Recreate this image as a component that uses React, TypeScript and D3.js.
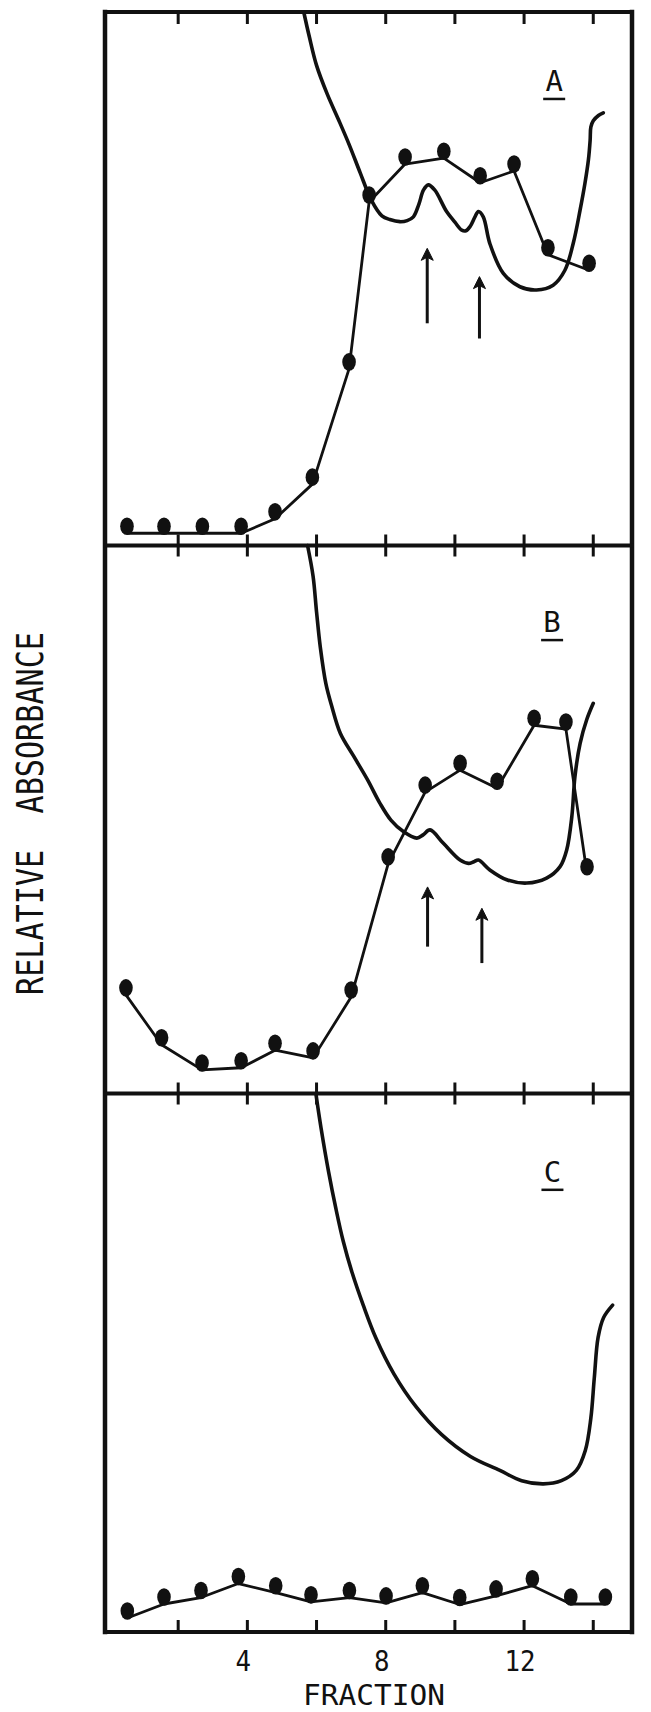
import React from 'react';
import * as d3 from 'd3';

// ---- axis ----
const fractionTicks = [2, 4, 6, 8, 10, 12, 14];
const fractionLabels = [4, 8, 12];

// ---- Panel A ----
const aDotFraction = [0.52, 1.59, 2.70, 3.82, 4.80, 5.88, 6.94, 7.52, 8.56, 9.68, 10.73, 11.71, 12.69, 13.88];
const aDotAbs = [0.023, 0.023, 0.023, 0.023, 0.050, 0.115, 0.331, 0.644, 0.715, 0.726, 0.680, 0.702, 0.545, 0.516];
const aScanFraction = [5.63, 5.79, 6.00, 6.31, 6.63, 6.94, 7.26, 7.58, 7.89, 8.12, 8.41, 8.62, 8.80, 8.96, 9.09, 9.23, 9.42, 9.76, 10.00, 10.20, 10.32, 10.44, 10.58, 10.68, 10.82, 11.01, 11.40, 11.88, 12.36, 12.84, 13.18, 13.42, 13.62, 13.76, 13.86, 13.91, 13.93, 14.00, 14.15, 14.29];
const aScanAbs = [1.000, 0.954, 0.900, 0.846, 0.799, 0.752, 0.699, 0.648, 0.618, 0.611, 0.607, 0.609, 0.616, 0.640, 0.666, 0.676, 0.666, 0.626, 0.606, 0.591, 0.590, 0.598, 0.616, 0.626, 0.616, 0.566, 0.510, 0.485, 0.479, 0.488, 0.516, 0.566, 0.629, 0.679, 0.723, 0.760, 0.784, 0.796, 0.806, 0.811];
const aArrowFraction = [9.20, 10.71];
const aArrowTip = [0.557, 0.504];
const aArrowTail = [0.4165, 0.388];

// ---- Panel B ----
const bDotFraction = [0.49, 1.52, 2.69, 3.82, 4.80, 5.90, 7.00, 8.07, 9.14, 10.15, 11.22, 12.29, 13.21, 13.82];
const bDotAbs = [0.180, 0.089, 0.043, 0.047, 0.079, 0.065, 0.176, 0.419, 0.550, 0.590, 0.557, 0.672, 0.665, 0.401];
const bScanFraction = [5.74, 5.90, 6.00, 6.11, 6.27, 6.43, 6.69, 7.06, 7.48, 7.83, 8.15, 8.51, 8.90, 9.08, 9.28, 9.66, 10.15, 10.39, 10.55, 10.68, 11.01, 11.50, 12.08, 12.65, 13.04, 13.23, 13.38, 13.47, 13.62, 13.81, 14.00];
const bScanAbs = [1.000, 0.944, 0.879, 0.814, 0.748, 0.709, 0.657, 0.617, 0.572, 0.530, 0.499, 0.478, 0.466, 0.472, 0.481, 0.457, 0.426, 0.420, 0.423, 0.426, 0.408, 0.390, 0.384, 0.393, 0.414, 0.444, 0.505, 0.578, 0.639, 0.682, 0.712];
const bArrowFraction = [9.21, 10.78];
const bArrowTip = [0.377, 0.338];
const bArrowTail = [0.268, 0.238];

// ---- Panel C ----
const cDotFraction = [0.53, 1.59, 2.66, 3.74, 4.82, 5.84, 6.95, 8.01, 9.06, 10.14, 11.19, 12.24, 13.35, 14.35];
const cDotAbs = [0.026, 0.052, 0.064, 0.090, 0.073, 0.056, 0.064, 0.054, 0.073, 0.051, 0.067, 0.086, 0.052, 0.052];
const cScanFraction = [5.98, 6.13, 6.35, 6.56, 6.77, 7.03, 7.35, 7.71, 8.24, 8.87, 9.61, 10.45, 11.30, 11.93, 12.56, 13.08, 13.51, 13.77, 13.93, 14.03, 14.14, 14.30, 14.56];
const cScanAbs = [1.000, 0.936, 0.854, 0.786, 0.726, 0.667, 0.607, 0.547, 0.479, 0.419, 0.367, 0.326, 0.300, 0.281, 0.275, 0.281, 0.300, 0.337, 0.397, 0.472, 0.547, 0.584, 0.607];
const cArrowFraction: number[] = [];
const cArrowTip: number[] = [];
const cArrowTail: number[] = [];

// ---- layout ----
const W = 651;
const H = 1712;
const FRAME_LEFT = 105;
const FRAME_RIGHT = 632;
const PANEL_EDGES = [12, 545.5, 1093.5, 1632];

const panels = [
  { name: 'A', dx: aDotFraction, dy: aDotAbs, sx: aScanFraction, sy: aScanAbs, ax: aArrowFraction, at: aArrowTip, al: aArrowTail, top: PANEL_EDGES[0], bottom: PANEL_EDGES[1], labelF: 12.87, labelV: 0.852 },
  { name: 'B', dx: bDotFraction, dy: bDotAbs, sx: bScanFraction, sy: bScanAbs, ax: bArrowFraction, at: bArrowTip, al: bArrowTail, top: PANEL_EDGES[1], bottom: PANEL_EDGES[2], labelF: 12.81, labelV: 0.842 },
  { name: 'C', dx: cDotFraction, dy: cDotAbs, sx: cScanFraction, sy: cScanAbs, ax: cArrowFraction, at: cArrowTip, al: cArrowTail, top: PANEL_EDGES[2], bottom: PANEL_EDGES[3], labelF: 12.82, labelV: 0.836 },
];

const INK = '#111';
const FONT = '"DejaVu Sans Mono", "Liberation Mono", monospace';

export default function App() {
  const x = d3.scaleLinear().domain([0, 15.2]).range([109, 109 + 34.59 * 15.2]);

  return (
    <svg width={W} height={H} style={{ position: 'absolute', left: 0, top: 0, background: '#fff' }}>
      <rect x={0} y={0} width={W} height={H} fill="#fff" />
      {panels.map((p) => {
        const y = d3.scaleLinear().domain([0, 1]).range([p.bottom, p.top]);
        const pts: [number, number][] = p.dx.map((f, i) => [x(f), y(p.dy[i])]);
        const scan: [number, number][] = p.sx.map((f, i) => [x(f), y(p.sy[i])]);
        const lineGen = d3.line();
        const curveGen = d3.line().curve(d3.curveCatmullRom.alpha(0.5));
        const lx = x(p.labelF);
        const ly = y(p.labelV);
        return (
          <g key={p.name}>
            <path d={curveGen(scan) || ''} fill="none" stroke={INK} strokeWidth={3.6} strokeLinejoin="round" strokeLinecap="round" />
            <path d={lineGen(pts) || ''} fill="none" stroke={INK} strokeWidth={2.8} strokeLinejoin="round" />
            {pts.map(([px, py], i) => (
              <ellipse key={i} cx={px} cy={py - 7} rx={6.8} ry={8.8} fill={INK} />
            ))}
            {p.ax.map((f, i) => {
              const ax = x(f);
              const tip = y(p.at[i]);
              const tail = y(p.al[i]);
              return (
                <g key={'ar' + i}>
                  <line x1={ax} x2={ax} y1={tail} y2={tip + 8} stroke={INK} strokeWidth={3} />
                  <path d={`M${ax},${tip} L${ax + 6},${tip + 12} L${ax},${tip + 9} L${ax - 6},${tip + 12} Z`} fill={INK} stroke={INK} strokeWidth={1} strokeLinejoin="round" />
                </g>
              );
            })}
            <text x={lx} y={ly} textAnchor="middle" fontFamily={FONT} fontSize={29} fill={INK}>{p.name}</text>
            <line x1={lx - 11} x2={lx + 11} y1={ly + 8} y2={ly + 8} stroke={INK} strokeWidth={2.5} />
          </g>
        );
      })}

      {/* frame */}
      <line x1={FRAME_LEFT} x2={FRAME_LEFT} y1={PANEL_EDGES[0]} y2={PANEL_EDGES[3]} stroke={INK} strokeWidth={4.5} strokeLinecap="square" />
      <line x1={FRAME_RIGHT} x2={FRAME_RIGHT} y1={PANEL_EDGES[0]} y2={PANEL_EDGES[3]} stroke={INK} strokeWidth={4.5} strokeLinecap="square" />
      {PANEL_EDGES.map((ey, i) => (
        <g key={'edge' + i}>
          <line x1={FRAME_LEFT} x2={FRAME_RIGHT} y1={ey} y2={ey} stroke={INK} strokeWidth={4} strokeLinecap="square" />
          {fractionTicks.map((t) => {
            const tx = x(t);
            const y1 = i === 0 ? ey : i === 3 ? ey - 12 : ey - 11;
            const y2 = i === 0 ? ey + 12 : i === 3 ? ey : ey + 11;
            return <line key={t} x1={tx} x2={tx} y1={y1} y2={y2} stroke={INK} strokeWidth={3} />;
          })}
        </g>
      ))}

      {/* x tick labels */}
      {fractionLabels.map((t) => (
        <text key={t} x={x(t) - 4} y={1671} textAnchor="middle" fontFamily={FONT} fontSize={29} fill={INK}
          textLength={String(t).length * 15.5} lengthAdjust="spacingAndGlyphs">{t}</text>
      ))}
      <text x={374} y={1705} textAnchor="middle" fontFamily={FONT} fontSize={29} fill={INK}
        textLength={142} lengthAdjust="spacingAndGlyphs">FRACTION</text>

      {/* y label */}
      <text transform="translate(43.3,813.5) rotate(-90)" textAnchor="middle" fontFamily={FONT} fontSize={36.5} fill={INK}
        textLength={363} lengthAdjust="spacingAndGlyphs" xmlSpace="preserve">RELATIVE  ABSORBANCE</text>
    </svg>
  );
}
